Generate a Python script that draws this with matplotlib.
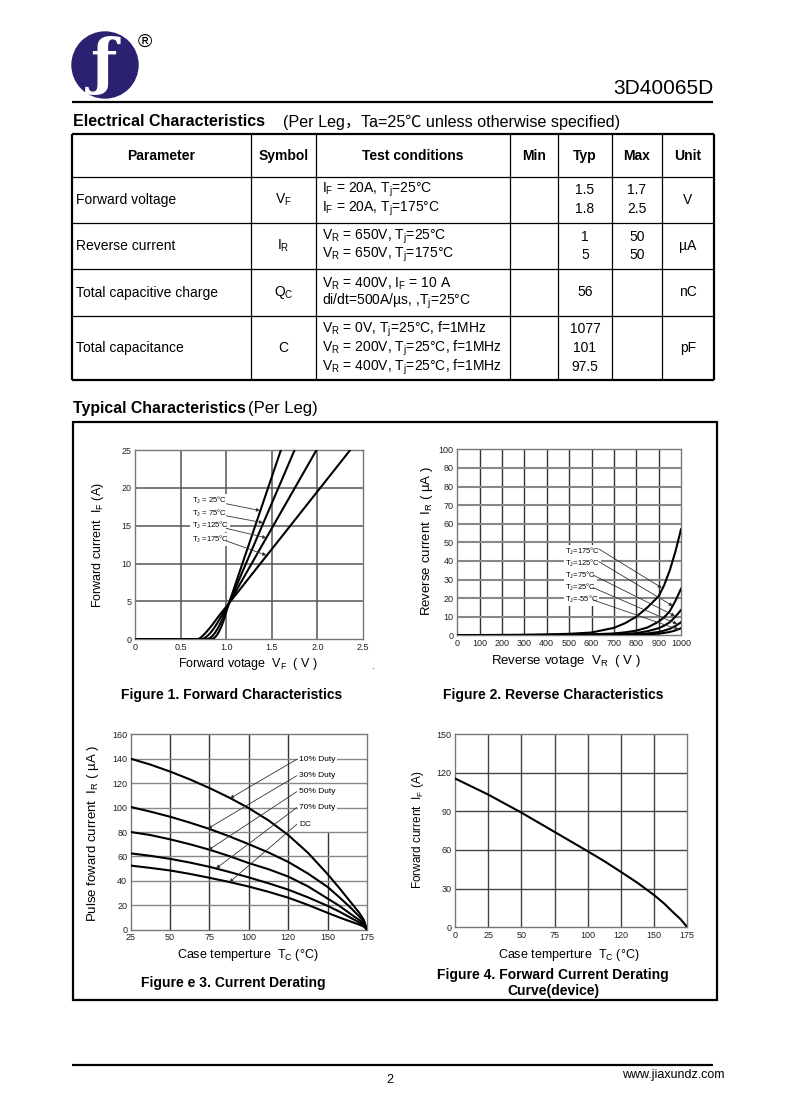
import matplotlib
matplotlib.use("Agg")
import matplotlib.pyplot as plt
from matplotlib.patches import Circle, Rectangle
from matplotlib.lines import Line2D

plt.rcParams['font.family'] = ['Liberation Sans', 'Noto Sans CJK SC', 'DejaVu Sans']
plt.rcParams['mathtext.fontset'] = 'custom'
plt.rcParams['mathtext.rm'] = 'Liberation Sans'
plt.rcParams['mathtext.it'] = 'Liberation Sans:italic'
plt.rcParams['mathtext.bf'] = 'Liberation Sans:bold'

# ---------------- data ----------------
part_number = "3D40065D"
table_header = ["Parameter", "Symbol", "Test conditions", "Min", "Typ", "Max", "Unit"]
table_params = ["Forward voltage", "Reverse current", "Total capacitive charge", "Total capacitance"]
table_symbols = [r"V$_\mathrm{F}$", r"I$_\mathrm{R}$", r"Q$_\mathrm{C}$", "C"]
table_conditions = [
    [r"I$_\mathrm{F}$ = 20A, T$_\mathrm{j}$=25°C", r"I$_\mathrm{F}$ = 20A, T$_\mathrm{j}$=175°C"],
    [r"V$_\mathrm{R}$ = 650V, T$_\mathrm{j}$=25°C", r"V$_\mathrm{R}$ = 650V, T$_\mathrm{j}$=175°C"],
    [r"V$_\mathrm{R}$ = 400V, I$_\mathrm{F}$ = 10 A", r"di/dt=500A/µs, ,T$_\mathrm{j}$=25°C"],
    [r"V$_\mathrm{R}$ = 0V, T$_\mathrm{j}$=25°C, f=1MHz", r"V$_\mathrm{R}$ = 200V, T$_\mathrm{j}$=25°C, f=1MHz",
     r"V$_\mathrm{R}$ = 400V, T$_\mathrm{j}$=25°C, f=1MHz"],
]
table_typ = [["1.5", "1.8"], ["1", "5"], ["56"], ["1077", "101", "97.5"]]
table_max = [["1.7", "2.5"], ["50", "50"], [], []]
table_units = ["V", "µA", "nC", "pF"]

# Figure 1: forward characteristics
fig1_labels = [r"T$_\mathrm{J}$ = 25°C", r"T$_\mathrm{J}$ = 75°C", r"T$_\mathrm{J}$ =125°C", r"T$_\mathrm{J}$ =175°C"]
vf_25 = [0.0, 0.84, 0.86, 0.88, 0.90, 0.92, 0.94, 0.96, 0.98, 1.00, 1.03, 1.60]
if_25 = [0.0, 0.0, 0.1, 0.3, 0.6, 1.0, 1.5, 2.1, 2.8, 3.6, 4.75, 25.0]
vf_75 = [0.0, 0.79, 0.82, 0.85, 0.88, 0.91, 0.94, 0.97, 1.00, 1.03, 1.75]
if_75 = [0.0, 0.0, 0.15, 0.45, 0.9, 1.5, 2.2, 3.0, 3.9, 4.75, 25.0]
vf_125 = [0.0, 0.74, 0.78, 0.82, 0.86, 0.90, 0.94, 0.98, 1.03, 1.99]
if_125 = [0.0, 0.0, 0.3, 0.75, 1.35, 2.1, 2.9, 3.7, 4.75, 25.0]
vf_175 = [0.0, 0.69, 0.73, 0.77, 0.81, 0.85, 0.89, 0.93, 0.98, 1.03, 2.36]
if_175 = [0.0, 0.0, 0.3, 0.8, 1.35, 1.95, 2.6, 3.25, 4.0, 4.75, 25.0]
fig1_label_xy = [(0.62, 18.3), (0.62, 16.6), (0.62, 15.0), (0.62, 13.2)]
fig1_arrow_from = [(1.0, 17.9), (1.0, 16.3), (1.0, 14.65), (1.0, 13.0)]
fig1_arrow_to = [(1.37, 17.0), (1.405, 15.4), (1.44, 13.4), (1.44, 11.1)]

# Figure 2: reverse characteristics
vr = [0, 100, 200, 300, 400, 500, 600, 700, 750, 800, 850, 900, 925, 950, 975, 1000]
ir_175 = [0.1, 0.15, 0.2, 0.3, 0.5, 0.8, 1.5, 4.0, 6.5, 10.0, 15.0, 21.0, 27.0, 35.0, 45.0, 57.0]
ir_125 = [0.05, 0.08, 0.1, 0.15, 0.2, 0.3, 0.5, 1.0, 1.6, 2.5, 4.2, 7.3, 9.7, 13.0, 18.5, 25.0]
ir_75 = [0.03, 0.05, 0.07, 0.1, 0.13, 0.18, 0.3, 0.5, 0.8, 1.2, 2.2, 3.8, 5.2, 7.0, 10.0, 13.6]
ir_25 = [0.02, 0.03, 0.04, 0.05, 0.07, 0.1, 0.15, 0.25, 0.4, 0.6, 1.0, 1.8, 2.5, 3.5, 5.0, 7.0]
ir_m55 = [0.01, 0.02, 0.02, 0.03, 0.04, 0.05, 0.08, 0.12, 0.2, 0.3, 0.5, 0.9, 1.3, 1.8, 2.6, 3.8]
fig2_labels = [r"T$_\mathrm{J}$=175°C", r"T$_\mathrm{J}$=125°C", r"T$_\mathrm{J}$=75°C",
               r"T$_\mathrm{J}$=25°C", r"T$_\mathrm{J}$=-55°C"]
fig2_label_xy = [(480, 45.0), (480, 38.9), (480, 32.4), (480, 26.0), (480, 19.5)]
fig2_arrow_from = [(633, 46.4), (633, 39.6), (607, 32.4), (607, 25.6), (607, 19.0)]
fig2_arrow_to = [(914, 25.5), (963, 15.8), (973, 10.4), (983, 6.1), (991, 3.0)]
fig2_yticks = [0, 10, 20, 30, 40, 50, 60, 70, 80, 90, 100]
fig2_yticklabels = ["0", "10", "20", "30", "40", "50", "60", "70", "80", "80", "100"]

# Figure 3: current derating
tc3 = [25, 37.5, 50, 62.5, 75, 87.5, 100, 112.5, 125, 137.5, 150, 157.5, 165, 170, 173, 175]
ip_10 = [140, 135.2, 129.5, 123.1, 116, 108.2, 99.5, 89.5, 77.5, 63, 45.5, 34, 22, 14, 8, 0]
ip_30 = [100.5, 96.7, 92.5, 87.7, 82.5, 76.5, 70, 63.2, 55.5, 46, 35, 26.5, 17.5, 11, 6.5, 0]
ip_50 = [80, 77.5, 74, 70, 65.5, 60.3, 54.5, 49.5, 43.5, 35.5, 25.5, 19.5, 12.5, 8, 4.8, 0]
ip_70 = [62.5, 60.5, 58, 55, 51.5, 47.3, 42.8, 38, 32.8, 26.5, 19.5, 14.8, 9.5, 6, 3.6, 0]
ip_dc = [52.5, 50.6, 48.5, 45.7, 42.5, 39.1, 35.3, 31, 26.2, 20.3, 13.8, 10, 6.5, 4.2, 2.5, 0]
fig3_labels = ["10% Duty", "30% Duty", "50% Duty", "70% Duty", "DC"]
fig3_label_xy = [(132, 139.5), (132, 126.1), (132, 113.0), (132, 99.9), (132, 86.3)]
fig3_arrow_from = [(130.4, 139.5), (130.4, 126.1), (130.4, 113.0), (130.4, 100.0), (130.4, 86.3)]
fig3_arrow_to = [(88, 107.5), (74, 82.8), (74.3, 65.2), (79.2, 50.2), (87.6, 38.8)]
fig3_xticks = [25, 50, 75, 100, 125, 150, 175]
fig3_xticklabels = ["25", "50", "75", "100", "120", "150", "175"]

# Figure 4: forward current derating
tc4 = [0, 25, 50, 75, 100, 112.5, 125, 137.5, 150, 157.5, 165, 170, 175]
if4 = [115.5, 103, 89, 74, 59, 51.3, 43, 34.5, 25, 18.5, 11, 6.2, 0]
fig4_xticks = [0, 25, 50, 75, 100, 125, 150, 175]
fig4_xticklabels = ["0", "25", "50", "75", "100", "120", "150", "175"]

# ---------------- figure ----------------
W, H = 785, 1114
fig = plt.figure(figsize=(W / 100, H / 100), dpi=100)
bg = fig.add_axes([0, 0, 1, 1])
bg.set_xlim(0, W)
bg.set_ylim(H, 0)
bg.axis('off')

def hline(x0, x1, y, lw=1.0):
    bg.add_line(Line2D([x0, x1], [y, y], color='black', lw=lw, solid_capstyle='butt'))

def vline(x, y0, y1, lw=1.0):
    bg.add_line(Line2D([x, x], [y0, y1], color='black', lw=lw, solid_capstyle='butt'))

def txt(x, y, s, size=10, ha='left', va='center', weight='normal', **kw):
    bg.text(x, y, s, fontsize=size, ha=ha, va=va, fontweight=weight, **kw)

# logo
bg.add_patch(Circle((105, 65), 33, color='#2a2270'))
txt(104, 66, "ƒ", size=44, ha='center', color='white', family='DejaVu Serif', weight='bold')
txt(145, 42, "®", size=14, ha='center')
txt(713, 89, part_number, size=15, ha='right')
hline(72, 713, 102, lw=1.6)

# electrical table heading
txt(73, 122, "Electrical Characteristics", size=11.5, weight='bold')
txt(283, 122, "(Per Leg，Ta=25℃ unless otherwise specified)", size=11.6)

# table
col_x = [72, 251, 316, 510, 558, 612, 662, 714]
row_y = [134, 177, 223, 269, 316, 380]
for i, x in enumerate(col_x):
    vline(x, row_y[0], row_y[-1], lw=1.6 if i in (0, len(col_x) - 1) else 0.9)
for j, y in enumerate(row_y):
    hline(col_x[0], col_x[-1], y, lw=1.6 if j in (0, len(row_y) - 1) else 0.9)
centers = [(col_x[i] + col_x[i + 1]) / 2 for i in range(len(col_x) - 1)]
for i, h in enumerate(table_header):
    txt(centers[i], 156, h, size=10, ha='center', weight='bold')
line_pos = [[190, 209], [237, 255], [284, 301], [329, 348, 367]]
for r in range(4):
    mid = (row_y[r + 1] + row_y[r + 2]) / 2
    txt(76, mid, table_params[r], size=10)
    txt(centers[1], mid, table_symbols[r], size=10, ha='center')
    for k, c in enumerate(table_conditions[r]):
        txt(322, line_pos[r][k], c, size=10)
    if len(table_typ[r]) == 1:
        txt(centers[4], mid, table_typ[r][0], size=10, ha='center')
    else:
        for k, v in enumerate(table_typ[r]):
            txt(centers[4], line_pos[r][k], v, size=10, ha='center')
    for k, v in enumerate(table_max[r]):
        txt(centers[5], line_pos[r][k], v, size=10, ha='center')
    txt(centers[6], mid, table_units[r], size=10, ha='center')

# typical characteristics
txt(73, 408, "Typical Characteristics", size=11.4, weight='bold')
txt(248, 408, "(Per Leg)", size=12)
bg.add_patch(Rectangle((73, 422), 644, 578, fill=False, lw=1.6, ec='black'))

def ax_at(l, t, r, b):
    return fig.add_axes([l / W, 1 - b / H, (r - l) / W, (b - t) / H])

def style(ax):
    for s in ax.spines.values():
        s.set_color('#777777')
        s.set_linewidth(1.0)
    ax.tick_params(length=0, pad=2.5, labelsize=6.5, labelcolor='#222222')
    ax.set_facecolor('white')

arrow_kw = dict(arrowstyle='-|>', lw=0.6, color='#333333', mutation_scale=5, shrinkA=0, shrinkB=0)
label_box = dict(facecolor='white', edgecolor='none', pad=0.8)

# ---- Figure 1
ax1 = ax_at(135, 450, 363, 639.3)
style(ax1)
ax1.set_xlim(0, 2.5)
ax1.set_ylim(0, 25)
ax1.set_xticks([0, 0.5, 1.0, 1.5, 2.0, 2.5])
ax1.set_xticklabels(["0", "0.5", "1.0", "1.5", "2.0", "2.5"])
ax1.set_yticks([0, 5, 10, 15, 20, 25])
ax1.vlines([0.5, 1.0, 1.5, 2.0], 0, 25, colors='#555555', lw=1.1, zorder=1)
ax1.hlines([5, 10, 15, 20], 0, 2.5, colors='#555555', lw=1.1, zorder=1)
for v, i_ in [(vf_25, if_25), (vf_75, if_75), (vf_125, if_125), (vf_175, if_175)]:
    ax1.plot(v, i_, color='black', lw=1.5, zorder=3, solid_joinstyle='round')
for lab, xy, a0, a1 in zip(fig1_labels, fig1_label_xy, fig1_arrow_from, fig1_arrow_to):
    ax1.text(xy[0], xy[1], lab, fontsize=5.5, ha='left', va='center', bbox=label_box, zorder=4)
    ax1.annotate('', xy=a1, xytext=a0, arrowprops=arrow_kw, zorder=5)
txt(98, 545, r"Forward current  I$_\mathrm{F}$ (A)", size=9, ha='center', rotation=90)
txt(248, 664, r"Forward votage  V$_\mathrm{F}$  ( V )", size=9, ha='center')
txt(372, 666, ".", size=7, ha='center')
txt(232, 695, "Figure 1. Forward Characteristics", size=10, ha='center', weight='bold')

# ---- Figure 2
ax2 = ax_at(457.3, 449.3, 681, 635.3)
style(ax2)
ax2.set_xlim(0, 1000)
ax2.set_ylim(0, 100)
ax2.set_xticks(range(0, 1001, 100))
ax2.set_yticks(fig2_yticks)
ax2.set_yticklabels(fig2_yticklabels)
ax2.vlines(range(100, 1000, 100), 0, 100, colors='#333333', lw=1.0, zorder=1)
ax2.hlines(range(10, 100, 10), 0, 1000, colors='#888888', lw=1.5, zorder=1)
for ir in [ir_175, ir_125, ir_75, ir_25, ir_m55]:
    ax2.plot(vr, ir, color='black', lw=1.5, zorder=3)
for lab, xy, a0, a1 in zip(fig2_labels, fig2_label_xy, fig2_arrow_from, fig2_arrow_to):
    ax2.text(xy[0], xy[1], lab, fontsize=5.5, ha='left', va='center', bbox=label_box, zorder=4)
    ax2.annotate('', xy=a1, xytext=a0, arrowprops=arrow_kw, zorder=5)
txt(427, 541, r"Reverse current  I$_\mathrm{R}$ ( µA )", size=9.5, ha='center', rotation=90)
txt(566, 661, r"Reverse votage  V$_\mathrm{R}$  ( V )", size=9.5, ha='center')
txt(553, 695, "Figure 2. Reverse Characteristics", size=10, ha='center', weight='bold')

# ---- Figure 3
ax3 = ax_at(130.7, 734.3, 367, 929.7)
style(ax3)
ax3.set_xlim(25, 175)
ax3.set_ylim(0, 160)
ax3.set_xticks(fig3_xticks)
ax3.set_xticklabels(fig3_xticklabels)
ax3.set_yticks(range(0, 161, 20))
ax3.vlines([50, 75, 100, 125], 0, 160, colors='#333333', lw=1.0, zorder=1)
ax3.vlines([150], 0, 80, colors='#333333', lw=1.0, zorder=1)
ax3.hlines(range(20, 160, 20), 25, 175, colors='#888888', lw=1.0, zorder=1)
for ip in [ip_10, ip_30, ip_50, ip_70, ip_dc]:
    ax3.plot(tc3, ip, color='black', lw=1.5, zorder=3, solid_joinstyle='round')
for lab, xy, a0, a1 in zip(fig3_labels, fig3_label_xy, fig3_arrow_from, fig3_arrow_to):
    ax3.text(xy[0], xy[1], lab, fontsize=6, ha='left', va='center', bbox=label_box, zorder=4)
    ax3.annotate('', xy=a1, xytext=a0, arrowprops=arrow_kw, zorder=5)
txt(93, 833, r"Pulse foward current  I$_\mathrm{R}$ ( µA )", size=9.5, ha='center', rotation=90)
txt(248, 955, r"Case temperture  T$_\mathrm{C}$ (°C)", size=9, ha='center')
txt(233, 983, "Figure e 3. Current Derating", size=10, ha='center', weight='bold')

# ---- Figure 4
ax4 = ax_at(455, 734, 687.3, 927.3)
style(ax4)
ax4.set_xlim(0, 175)
ax4.set_ylim(0, 150)
ax4.set_xticks(fig4_xticks)
ax4.set_xticklabels(fig4_xticklabels)
ax4.set_yticks(range(0, 151, 30))
ax4.vlines([25, 50, 75, 100, 125, 150], 0, 150, colors='#444444', lw=1.0, zorder=1)
ax4.hlines([30, 60, 90, 120], 0, 175, colors='#444444', lw=1.0, zorder=1)
ax4.plot(tc4, if4, color='black', lw=1.5, zorder=3, solid_joinstyle='round')
txt(418, 830, r"Forward current  I$_\mathrm{F}$ (A)", size=8.5, ha='center', rotation=90)
txt(569, 955, r"Case temperture  T$_\mathrm{C}$ (°C)", size=9, ha='center')
txt(553, 975, "Figure 4. Forward Current Derating", size=10, ha='center', weight='bold')
txt(553, 991, "Curve(device)", size=10, ha='center', weight='bold')

# footer
hline(72, 713, 1065, lw=1.6)
txt(390, 1080, "2", size=9, ha='center')
txt(725, 1075, "www.jiaxundz.com", size=9, ha='right')

fig.savefig("out.png", dpi=100)
